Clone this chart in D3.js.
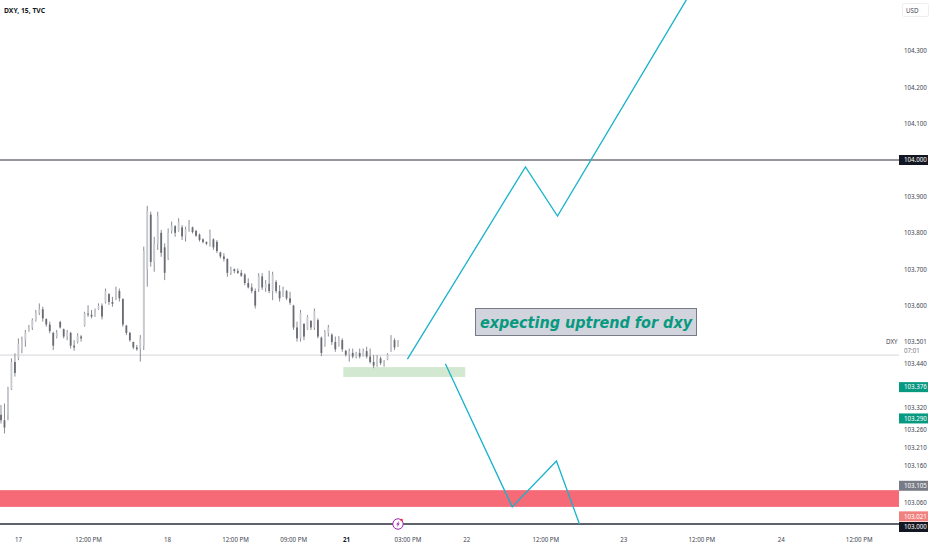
<!DOCTYPE html>
<html>
<head>
<meta charset="utf-8">
<script src="https://cdn.jsdelivr.net/npm/d3@7"></script>
<style>
  html, body { margin: 0; padding: 0; background: #fff; }
  text { font-family: "Noto Sans", sans-serif; }
  .tick text { fill: #434651; font-size: 6.2px; }
</style>
</head>
<body>
<script>
// 30 minute candles, prices
var highs = [103.327,103.331,103.377,103.455,103.469,103.510,103.515,103.533,103.547,103.565,103.588,103.606,103.597,103.565,103.556,103.528,103.533,103.558,103.537,103.533,103.528,103.505,103.524,103.519,103.583,103.601,103.588,103.592,103.606,103.606,103.647,103.634,103.624,103.652,103.647,103.620,103.547,103.528,103.501,103.492,103.519,103.762,103.874,103.858,103.789,103.858,103.808,103.771,103.812,103.831,103.821,103.840,103.821,103.817,103.835,103.817,103.808,103.798,103.785,103.776,103.809,103.785,103.780,103.748,103.744,103.730,103.707,103.702,103.702,103.698,103.689,103.675,103.661,103.647,103.689,103.689,103.670,103.696,103.693,103.670,103.656,103.652,103.643,103.638,103.602,103.556,103.588,103.551,103.574,103.560,103.592,103.565,103.515,103.533,103.547,103.524,103.515,103.516,103.510,103.478,103.482,103.482,103.473,103.482,103.482,103.487,103.482,103.464,103.464,103.460,103.450,103.469,103.519,103.510,103.505];
var lows = [103.276,103.249,103.285,103.368,103.405,103.450,103.469,103.487,103.528,103.533,103.556,103.574,103.556,103.542,103.524,103.478,103.510,103.537,103.510,103.505,103.482,103.476,103.496,103.501,103.542,103.569,103.565,103.569,103.588,103.562,103.606,103.602,103.597,103.615,103.611,103.542,103.519,103.501,103.480,103.476,103.446,103.478,103.652,103.707,103.693,103.753,103.734,103.670,103.725,103.798,103.789,103.803,103.780,103.776,103.803,103.798,103.789,103.776,103.771,103.766,103.762,103.753,103.744,103.730,103.721,103.679,103.684,103.689,103.687,103.679,103.656,103.647,103.634,103.592,103.638,103.643,103.638,103.634,103.615,103.634,103.611,103.624,103.615,103.602,103.533,103.501,103.501,103.505,103.533,103.533,103.533,103.510,103.461,103.487,103.515,103.492,103.473,103.487,103.473,103.460,103.446,103.455,103.455,103.455,103.460,103.455,103.441,103.428,103.432,103.437,103.432,103.450,103.473,103.478,103.487];
var opens = [103.300,103.285,103.300,103.370,103.445,103.455,103.480,103.505,103.530,103.540,103.560,103.580,103.590,103.563,103.548,103.525,103.515,103.555,103.535,103.515,103.525,103.490,103.500,103.515,103.545,103.578,103.575,103.570,103.590,103.600,103.610,103.632,103.610,103.620,103.640,103.618,103.545,103.525,103.500,103.485,103.482,103.490,103.700,103.850,103.720,103.770,103.800,103.760,103.730,103.805,103.818,103.805,103.815,103.790,103.808,103.815,103.805,103.795,103.782,103.775,103.770,103.782,103.775,103.746,103.735,103.728,103.690,103.700,103.695,103.690,103.685,103.662,103.650,103.640,103.645,103.680,103.648,103.660,103.640,103.665,103.640,103.625,103.640,103.620,103.600,103.540,103.510,103.550,103.535,103.558,103.540,103.560,103.512,103.490,103.525,103.520,103.500,103.490,103.505,103.476,103.465,103.470,103.460,103.470,103.462,103.475,103.460,103.445,103.435,103.455,103.442,103.452,103.475,103.505,103.487];
var closes = [103.285,103.265,103.370,103.445,103.415,103.495,103.505,103.525,103.540,103.560,103.580,103.590,103.565,103.548,103.530,103.490,103.525,103.540,103.515,103.525,103.490,103.485,103.518,103.510,103.578,103.575,103.570,103.585,103.600,103.570,103.640,103.610,103.605,103.645,103.620,103.548,103.525,103.505,103.485,103.480,103.510,103.750,103.860,103.720,103.770,103.845,103.745,103.690,103.800,103.820,103.800,103.830,103.790,103.810,103.825,103.802,103.792,103.780,103.775,103.770,103.800,103.760,103.750,103.735,103.728,103.690,103.700,103.695,103.690,103.682,103.662,103.650,103.640,103.600,103.680,103.650,103.660,103.640,103.685,103.640,103.620,103.645,103.620,103.608,103.540,103.510,103.580,103.515,103.570,103.540,103.585,103.515,103.470,103.528,103.540,103.500,103.480,103.510,103.480,103.465,103.475,103.460,103.470,103.460,103.475,103.460,103.445,103.435,103.455,103.442,103.445,103.465,103.510,103.485,103.500];

// time axis, positions given in bars
var xTickBars = [4.9, 25, 47.7, 67.2, 83.9, 99.1, 116.7, 133.6, 156.3, 178.7, 201.1, 223.9, 246.3];
var xTickLabels = ["17", "12:00 PM", "18", "12:00 PM", "09:00 PM", "21", "03:00 PM", "22", "12:00 PM", "23", "12:00 PM", "24", "12:00 PM"];

var yTickValues = [104.3, 104.2, 104.1, 103.9, 103.8, 103.7, 103.6, 103.44, 103.32, 103.26, 103.21, 103.16, 103.06];

// drawings on the chart: [bar, price]
var upPath = [[116.7, 103.453], [150.6, 103.981], [159.8, 103.846], [196.8, 104.44]];
var downPath = [[127.6, 103.440], [146.8, 103.047], [159.5, 103.173], [166.1, 103.000]];
var greenZone = { bars: [98.3, 133.3], prices: [103.431, 103.404] };
var redZone = { prices: [103.093, 103.047] };
var lastPrice = 103.464;
var levels = [104, 103];

var priceBadges = [
    { value: 104.000, fill: "#131722", color: "#fff", dy: 0 },
    { value: 103.376, fill: "#089981", color: "#fff", dy: 0 },
    { value: 103.290, fill: "#089981", color: "#fff", dy: 0 },
    { value: 103.105, fill: "#787b86", color: "#fff", dy: 0 },
    { value: 103.021, fill: "#f0817f", color: "#fff", dy: 0 },
    { value: 103.000, fill: "#131722", color: "#fff", dy: 3 }];

var width = 932, height = 550, plotRight = 899;

var x = d3.scaleLinear().domain([0, 114]).range([1, 398]);
var y = d3.scaleLinear().domain([103, 104]).range([524, 160]);

var svg = d3.select("body").append("svg")
    .attr("width", width)
    .attr("height", height)
    .style("display", "block");

svg.append("clipPath").attr("id", "plot")
    .append("rect")
    .attr("width", plotRight)
    .attr("height", height);

svg.append("filter").attr("id", "soft")
    .append("feGaussianBlur").attr("stdDeviation", 0.5);

var plot = svg.append("g").attr("clip-path", "url(#plot)");

// zones
plot.append("rect")
    .attr("x", 0)
    .attr("width", plotRight)
    .attr("y", y(redZone.prices[0]))
    .attr("height", y(redZone.prices[1]) - y(redZone.prices[0]))
    .attr("fill", "#f56a76");

plot.append("rect")
    .attr("x", x(greenZone.bars[0]))
    .attr("width", x(greenZone.bars[1]) - x(greenZone.bars[0]))
    .attr("y", y(greenZone.prices[0]))
    .attr("height", y(greenZone.prices[1]) - y(greenZone.prices[0]))
    .attr("fill", "#d2e8d0");

// last price line and the two levels
plot.append("line")
    .attr("x1", 0).attr("x2", plotRight)
    .attr("y1", y(lastPrice)).attr("y2", y(lastPrice))
    .attr("stroke", "#d6d6da")
    .attr("stroke-width", 1);

plot.selectAll(".level")
    .data(levels)
    .enter().append("line")
    .attr("class", "level")
    .attr("x1", 0).attr("x2", plotRight)
    .attr("y1", d => y(d)).attr("y2", d => y(d))
    .attr("stroke", "#2a2e39")
    .attr("stroke-width", d => d === 103 ? 1.4 : 1);

// candles
var candles = plot.append("g").attr("filter", "url(#soft)");

candles.selectAll(".wick")
    .data(highs)
    .enter().append("line")
    .attr("class", "wick")
    .attr("x1", (d, i) => x(i)).attr("x2", (d, i) => x(i))
    .attr("y1", d => y(d))
    .attr("y2", (d, i) => y(lows[i]))
    .attr("stroke", "#8b8d94")
    .attr("stroke-width", 1);

candles.selectAll(".body")
    .data(closes)
    .enter().append("rect")
    .attr("class", "body")
    .attr("x", (d, i) => x(i) - 0.9)
    .attr("width", 1.8)
    .attr("y", (d, i) => y(Math.max(d, opens[i])))
    .attr("height", (d, i) => Math.max(0.6, Math.abs(y(d) - y(opens[i]))))
    .attr("fill", (d, i) => d >= opens[i] ? "#c9cacf" : "#6a6c73");

// projected paths
var pathLine = d3.line().x(d => x(d[0])).y(d => y(d[1]));

plot.selectAll(".projection")
    .data([upPath, downPath])
    .enter().append("path")
    .attr("class", "projection")
    .attr("d", pathLine)
    .attr("fill", "none")
    .attr("stroke", "#17b3c9")
    .attr("stroke-width", 1.3);

// note
var note = svg.append("g").attr("transform", "translate(475,308)");
note.append("rect")
    .attr("x", 0.5).attr("y", 0.5)
    .attr("width", 221).attr("height", 27)
    .attr("fill", "#d1d4dc")
    .attr("stroke", "#787b86")
    .attr("stroke-width", 1);
note.append("text")
    .attr("x", 111).attr("y", 19.5)
    .attr("text-anchor", "middle")
    .attr("fill", "#089981")
    .style("font-family", "'DejaVu Sans Condensed', 'DejaVu Sans', sans-serif")
    .style("font-stretch", "condensed")
    .style("font-size", "16px")
    .style("font-weight", "bold")
    .style("font-style", "oblique")
    .text("expecting uptrend for dxy");

// time axis
var xAxis = d3.axisBottom(x)
    .tickValues(xTickBars)
    .tickSize(0)
    .tickFormat((d, i) => xTickLabels[i]);

var xg = svg.append("g")
    .attr("transform", "translate(0,535)")
    .call(xAxis);
xg.select(".domain").remove();
xg.selectAll(".tick text")
    .attr("dy", "0.71em")
    .attr("y", 3)
    .style("font-weight", (d, i) => xTickLabels[i] === "21" ? "bold" : "normal")
    .style("fill", (d, i) => xTickLabels[i] === "21" ? "#131722" : "#434651");

// price axis
var yAxis = d3.axisRight(y)
    .tickValues(yTickValues)
    .tickSize(0)
    .tickFormat(d3.format(".3f"));

var yg = svg.append("g")
    .attr("transform", "translate(" + plotRight + ",0)")
    .call(yAxis);
yg.select(".domain").remove();
yg.selectAll(".tick text").attr("x", 5);

// price badges
var badge = svg.selectAll(".badge")
    .data(priceBadges)
    .enter().append("g")
    .attr("class", "badge")
    .attr("transform", d => "translate(" + plotRight + "," + (y(d.value) + d.dy) + ")");
badge.append("rect")
    .attr("x", 0).attr("y", -5)
    .attr("width", 29).attr("height", 10)
    .attr("fill", d => d.fill);
badge.append("text")
    .attr("x", 5).attr("y", 2.2)
    .attr("fill", d => d.color)
    .style("font-size", "6.2px")
    .text(d => d3.format(".3f")(d.value));

// current price block
svg.append("text")
    .attr("x", 886).attr("y", 344)
    .attr("fill", "#434651").style("font-size", "6.2px")
    .text("DXY");
svg.append("text")
    .attr("x", 904).attr("y", 344)
    .attr("fill", "#434651").style("font-size", "6.2px")
    .text("103.501");
svg.append("text")
    .attr("x", 904).attr("y", 352.5)
    .attr("fill", "#787b86").style("font-size", "6.2px")
    .text("07:01");

// currency button
svg.append("rect")
    .attr("x", 902.5).attr("y", 3.5)
    .attr("width", 26).attr("height", 13)
    .attr("rx", 2)
    .attr("fill", "#fff")
    .attr("stroke", "#eceef2");
svg.append("text")
    .attr("x", 906).attr("y", 12.5)
    .attr("fill", "#434651").style("font-size", "6.2px")
    .text("USD");

// title
svg.append("text")
    .attr("x", 4).attr("y", 12.5)
    .attr("fill", "#131722")
    .style("font-size", "6.8px")
    .style("font-weight", "bold")
    .text("DXY, 15, TVC");

// lightning marker on the 103 level
var marker = svg.append("g")
    .attr("transform", "translate(" + x(114) + "," + y(103) + ")");
marker.append("circle")
    .attr("r", 5.2)
    .attr("fill", "#fff")
    .attr("stroke", "#9c27b0")
    .attr("stroke-width", 1);
marker.append("path")
    .attr("d", "M1.2,-3.2L-1.8,0.6H-0.2L-1.2,3.2L1.8,-0.6H0.2Z")
    .attr("fill", "#9c27b0");
marker.append("circle")
    .attr("cx", 3.6).attr("cy", -4)
    .attr("r", 1.3)
    .attr("fill", "#f23645");
</script>
</body>
</html>
